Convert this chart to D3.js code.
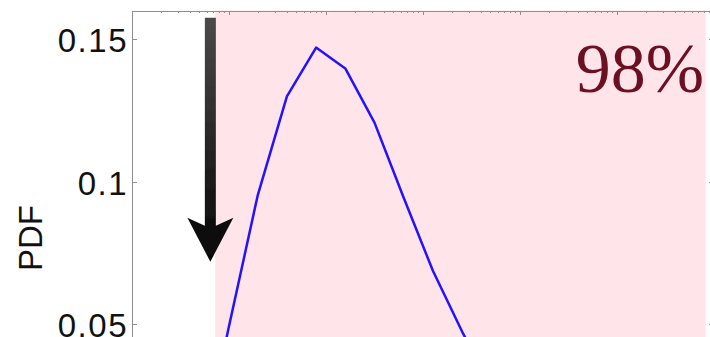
<!DOCTYPE html>
<head>
<meta charset="utf-8">
<style>
body { margin: 0; background: #fff; }
svg { display: block; }
.axis path, .axis line { stroke: #8f8f8f; shape-rendering: crispEdges; }
.axis text { font-family: "Liberation Sans", Arial, sans-serif; font-size: 33px; letter-spacing: 1.5px; fill: #111; }
</style>
</head>
<body>
<script src="https://d3js.org/d3.v7.min.js"></script>
<script>
// sample sizes (log x) and estimated pdf
var sizes = [0.5, 1, 2, 4, 8, 16, 32, 64, 128, 256, 512, 1024];
var pdf = [0.0, 0.0486, 0.0952, 0.1299, 0.1470, 0.1397, 0.1207, 0.0944, 0.0688, 0.0475, 0.028, 0.012];

// shaded interval and its label
var band = [0.73, 83000];
var bandLabel = "98%";

// axis ticks
var yTicks = [0.05, 0.1, 0.15];
var yTickLabels = ["0.05", "0.1", "0.15"];
var xMajor = [0.1, 1, 10, 100, 1000, 10000, 100000];
var yLabel = "PDF";

// arrow annotation (x position, y from/to)
var arrowX = 0.65;
var arrowY = [0.1575, 0.072];

(function() {
	var
		W = 710,
		H = 337,
		left = 131.5,
		top = 10.5;

	var x = d3.scaleLog()
		.domain([0.1, 100000])
		.range([left, left + 6 * 97]);

	var y = d3.scaleLinear()
		.domain([0, 0.16])
		.range([top + 0.16 * 2854, top]);

	var svg = d3.select("body")
		.append("svg")
		.attr("width", W)
		.attr("height", H);

	// shaded band
	svg.append("rect")
		.attr("x", x(band[0]))
		.attr("y", top)
		.attr("width", x(band[1]) - x(band[0]))
		.attr("height", y(0) - top)
		.attr("fill", "#ffe4e9");

	// minor log ticks on top
	var xMinor = [];
	xMajor.slice(0, -1).forEach(function(d) {
		for (var k = 2; k < 10; k++) xMinor.push(d * k);
	});

	svg.append("g")
		.attr("class", "axis")
		.attr("transform", "translate(0," + top + ")")
		.call(d3.axisTop(x).tickValues(xMinor).tickSize(-2).tickFormat(""));

	svg.append("g")
		.attr("class", "axis")
		.attr("transform", "translate(0," + top + ")")
		.call(d3.axisTop(x).tickValues(xMajor).tickSize(-4).tickFormat(""));

	var yAx = svg.append("g")
		.attr("class", "axis")
		.attr("transform", "translate(" + left + ",0)")
		.call(d3.axisLeft(y).tickValues(yTicks).tickSize(-5).tickPadding(3.5)
			.tickFormat(function(d, i) { return yTickLabels[i]; }));
	yAx.selectAll("text").attr("dy", "0.375em");

	svg.append("g")
		.attr("class", "axis")
		.attr("transform", "translate(" + x(100000) + ",0)")
		.call(d3.axisRight(y).tickValues(yTicks).tickSize(-5).tickFormat(""));

	// y label
	svg.append("text")
		.attr("transform", "translate(42," + 238 + ") rotate(-90)")
		.attr("text-anchor", "middle")
		.style("font-family", "'Liberation Sans', Arial, sans-serif")
		.style("font-size", "33px")
		.attr("fill", "#111")
		.text(yLabel);

	// pdf curve
	var line = d3.line()
		.x(function(d, i) { return x(sizes[i]); })
		.y(function(d) { return y(d); });

	svg.append("path")
		.attr("d", line(pdf))
		.attr("fill", "none")
		.attr("stroke", "#2412ff")
		.attr("stroke-width", 2.5)
		.attr("stroke-linejoin", "round");

	// band label
	svg.append("text")
		.attr("x", 704)
		.attr("y", 92)
		.attr("text-anchor", "end")
		.style("font-family", "'Liberation Serif', 'Times New Roman', serif")
		.style("font-size", "70px")
		.attr("fill", "#6b1022")
		.text(bandLabel);

	// arrow
	var defs = svg.append("defs");
	var grad = defs.append("linearGradient")
		.attr("id", "shaft")
		.attr("x1", 0).attr("y1", 0).attr("x2", 0).attr("y2", 1);
	grad.append("stop").attr("offset", "0%").attr("stop-color", "#4a4a4a");
	grad.append("stop").attr("offset", "100%").attr("stop-color", "#050505");
	defs.append("filter").attr("id", "soft")
		.append("feGaussianBlur").attr("stdDeviation", 0.6);

	var ax = x(arrowX),
		y0 = y(arrowY[0]),
		y1 = y(arrowY[1]),
		sw = 5.5,
		hw = 23,
		hl = 44;

	svg.append("path")
		.attr("d", "M" + (ax - sw) + "," + y0 +
			"L" + (ax + sw) + "," + y0 +
			"L" + (ax + sw) + "," + (y1 - hl + 8) +
			"L" + (ax + hw) + "," + (y1 - hl) +
			"L" + ax + "," + y1 +
			"L" + (ax - hw) + "," + (y1 - hl) +
			"L" + (ax - sw) + "," + (y1 - hl + 8) + "Z")
		.attr("fill", "url(#shaft)")
		.attr("filter", "url(#soft)");
})();
</script>
</body>
